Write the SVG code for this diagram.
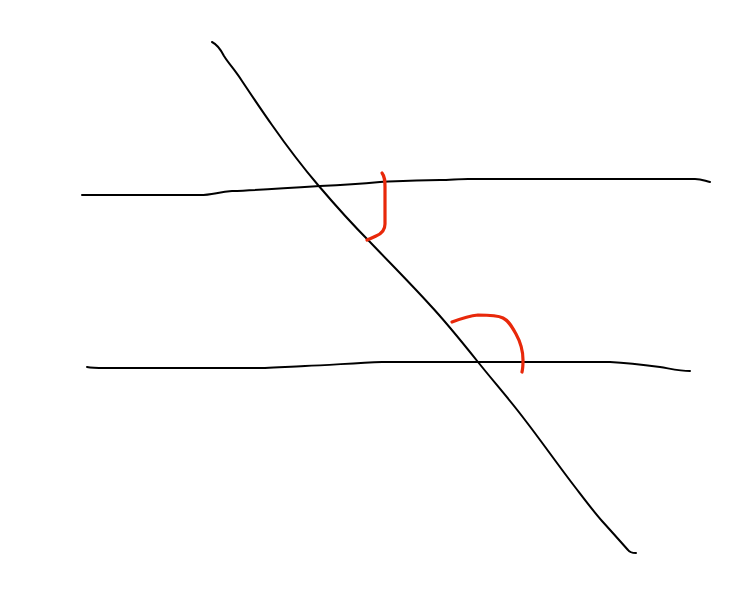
<svg xmlns="http://www.w3.org/2000/svg" width="750" height="610" viewBox="0 0 750 610">
<style>
.k{fill:none;stroke:#000;stroke-width:2;stroke-linecap:round;stroke-linejoin:round}
.r{fill:none;stroke:#e8280a;stroke-width:3.2;stroke-linecap:round;stroke-linejoin:round}
</style>
<rect width="750" height="610" fill="#fff"/>
<g id="connectors">
<path id="transversal" class="k" d="M212,42 C218,45 221,50 224,56 C229,64 235,70 242,81 C252,96 262,111 272,125 C286,145 301,165 318,185 C335,205 352,224 370,242 C390,263 410,283 430,305 C446,322 462,342 478,362 C494,382 510,400 525,420 C542,442 558,465 575,487 C585,500 594,512 602,521 C612,532 620,541 628,550 C630,553 633,553 636,553"/>
<path id="line-top" class="k" d="M82,195 L200,195 C212,195 218,192 232,191 C260,190 290,188 320,186 C345,185 360,184 380,182 C400,181 415,180 440,180 C450,180 458,179 468,179 L695,179 C702,179 705,181 710,182"/>
<path id="line-bottom" class="k" d="M87,367 C92,368 98,368 105,368 L265,368 C280,367 290,367 305,366 C330,365 355,363 382,362 L610,362 C630,363 645,365 660,367 C672,369 680,371 690,371"/>
</g>
<g id="angle-1">
<path class="r" d="M382,173 C385,177 385,181 385,187 L385,224 C385,231 381,234 376,236 C372,238 369,239 367,240"/>
</g>
<g id="angle-2">
<path class="r" d="M452,322 C460,319 468,316 478,315 C488,315 497,315 503,318 C509,321 512,327 516,334 C521,343 523,352 523,360 C523,365 523,368 522,372"/>
</g>
</svg>
